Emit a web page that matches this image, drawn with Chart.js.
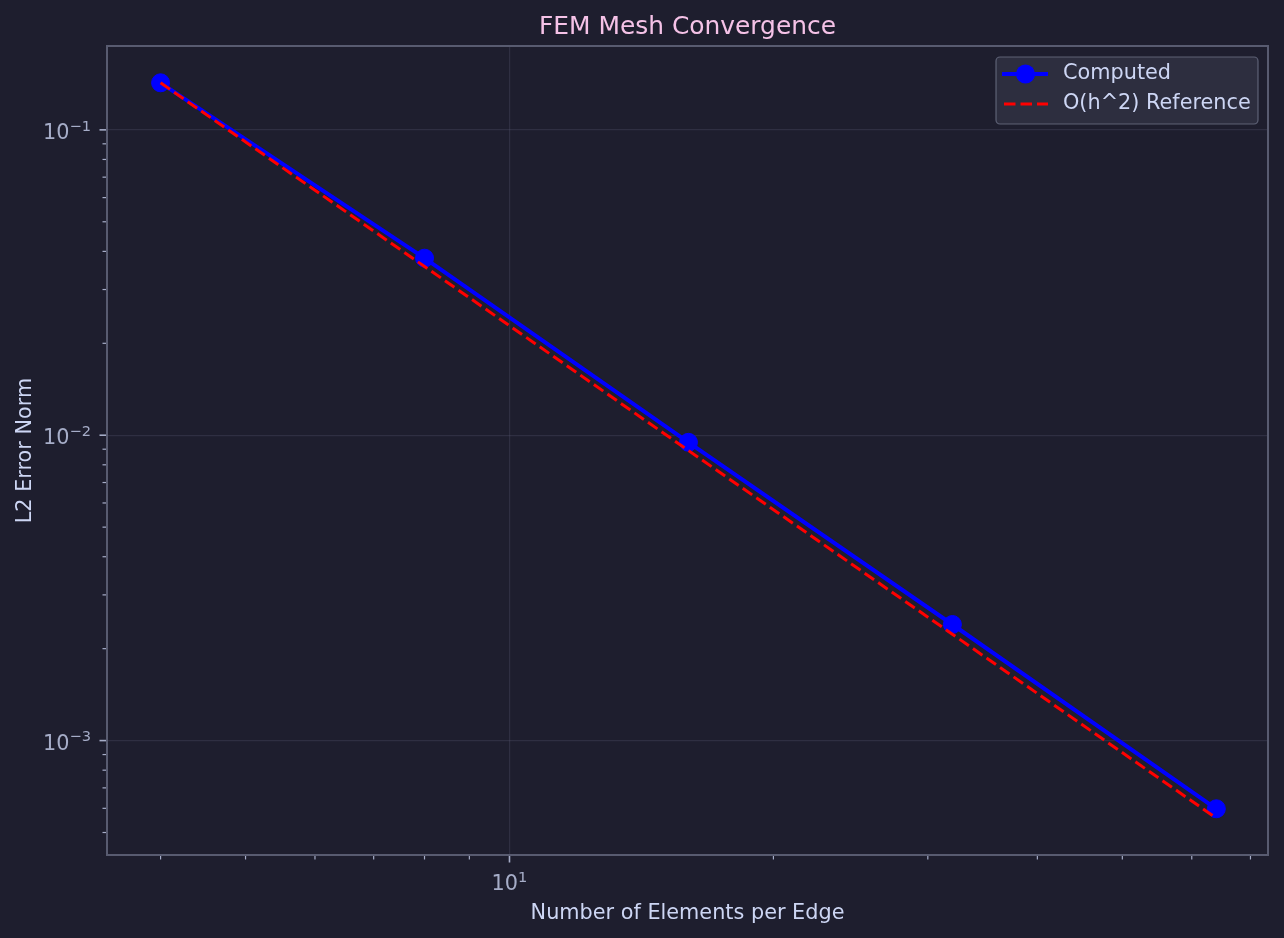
<!DOCTYPE html>
<html>
<head>
<meta charset="utf-8">
<script src="https://cdn.jsdelivr.net/npm/chart.js"></script>
<style>
  html, body { margin: 0; padding: 0; background: #1e1e2e; }
  #wrap { width: 1284px; height: 938px; position: relative; }
</style>
</head>
<body>
<div id="wrap"><canvas id="convChart"></canvas></div>
<script>
// data
const elements = [4, 8, 16, 32, 64];
const l2Error = [0.1426, 0.0380, 0.00948, 0.00240, 0.000598];
const refError = [0.1426, 0.0357, 0.00891, 0.00223, 0.000557];

const xMajor = [10];
const xMinor = [4, 5, 6, 7, 8, 9, 20, 30, 40, 50, 60, 70];
const yMajor = [1e-3, 1e-2, 1e-1];
const yMajorExp = ['\u22123', '\u22122', '\u22121'];
const yMinor = [5e-4, 6e-4, 7e-4, 8e-4, 9e-4,
  2e-3, 3e-3, 4e-3, 5e-3, 6e-3, 7e-3, 8e-3, 9e-3,
  2e-2, 3e-2, 4e-2, 5e-2, 6e-2, 7e-2, 8e-2, 9e-2];

const FONT = "'DejaVu Sans', sans-serif";
const C = {
  bg: '#1e1e2e',
  title: '#f5c2e7',
  label: '#cdd6f4',
  tick: '#a6adc8',
  spine: '#585b70',
  grid: 'rgba(88, 91, 112, 0.3)'
};

// puts "10" with a raised exponent, like mathtext
function drawPow(ctx, exp, x, y, align) {
  ctx.font = '20.8px ' + FONT;
  const wBase = ctx.measureText('10').width;
  ctx.font = '14.6px ' + FONT;
  const wExp = ctx.measureText(exp).width;
  const total = wBase + wExp;
  let x0 = align === 'center' ? x - total / 2 : x - total;
  ctx.textAlign = 'left';
  ctx.textBaseline = 'alphabetic';
  ctx.fillStyle = C.tick;
  ctx.font = '20.8px ' + FONT;
  ctx.fillText('10', x0, y);
  ctx.font = '14.6px ' + FONT;
  ctx.fillText(exp, x0 + wBase, y - 8.3);
}

const decorPlugin = {
  id: 'decor',
  beforeDraw(chart) {
    const ctx = chart.ctx;
    ctx.save();
    ctx.fillStyle = C.bg;
    ctx.fillRect(0, 0, chart.width, chart.height);
    ctx.restore();
  },
  afterDatasetsDraw(chart) {
    const ctx = chart.ctx;
    const a = chart.chartArea;
    const xs = chart.scales.x, ys = chart.scales.y;
    ctx.save();

    // spines
    ctx.strokeStyle = C.spine;
    ctx.lineWidth = 2;
    ctx.strokeRect(a.left, a.top, a.right - a.left, a.bottom - a.top);

    // tick marks
    ctx.strokeStyle = C.tick;
    const tick = (x1, y1, x2, y2, w) => {
      ctx.lineWidth = w;
      ctx.beginPath(); ctx.moveTo(x1, y1); ctx.lineTo(x2, y2); ctx.stroke();
    };
    xMinor.forEach(v => { const px = xs.getPixelForValue(v); tick(px, a.bottom + 1, px, a.bottom + 4.5, 1.2); });
    xMajor.forEach(v => { const px = xs.getPixelForValue(v); tick(px, a.bottom + 1, px, a.bottom + 7.5, 1.6); });
    yMinor.forEach(v => { const py = ys.getPixelForValue(v); tick(a.left - 1, py, a.left - 4.5, py, 1.2); });
    yMajor.forEach(v => { const py = ys.getPixelForValue(v); tick(a.left - 1, py, a.left - 7.5, py, 1.6); });

    // tick labels
    xMajor.forEach(v => drawPow(ctx, '1', xs.getPixelForValue(v), a.bottom + 35, 'center'));
    yMajor.forEach((v, i) => drawPow(ctx, yMajorExp[i], a.left - 16, ys.getPixelForValue(v) + 9, 'right'));

    // title and axis labels
    ctx.fillStyle = C.title;
    ctx.font = '24.9px ' + FONT;
    ctx.textAlign = 'center';
    ctx.textBaseline = 'alphabetic';
    ctx.fillText('FEM Mesh Convergence', (a.left + a.right) / 2, 33.5);

    ctx.fillStyle = C.label;
    ctx.font = '20.8px ' + FONT;
    ctx.fillText('Number of Elements per Edge', (a.left + a.right) / 2, 919);

    ctx.save();
    ctx.translate(30.5, (a.top + a.bottom) / 2);
    ctx.rotate(-Math.PI / 2);
    ctx.fillText('L2 Error Norm', 0, 0);
    ctx.restore();

    // legend
    const lx = 996, ly = 57, lw = 262, lh = 67;
    ctx.beginPath();
    ctx.roundRect(lx, ly, lw, lh, 4);
    ctx.fillStyle = 'rgba(49, 50, 68, 0.8)';
    ctx.fill();
    ctx.strokeStyle = 'rgba(108, 112, 134, 0.8)';
    ctx.lineWidth = 1.2;
    ctx.stroke();

    const r1 = 74, r2 = 104;
    ctx.strokeStyle = '#0000ff';
    ctx.lineWidth = 4;
    ctx.beginPath(); ctx.moveTo(1002, r1); ctx.lineTo(1048, r1); ctx.stroke();
    ctx.fillStyle = '#0000ff';
    ctx.beginPath(); ctx.arc(1025.5, r1, 9.5, 0, Math.PI * 2); ctx.fill();

    ctx.strokeStyle = '#ff0000';
    ctx.lineWidth = 3;
    ctx.setLineDash([11.5, 5]);
    ctx.beginPath(); ctx.moveTo(1004, r2); ctx.lineTo(1048, r2); ctx.stroke();
    ctx.setLineDash([]);

    ctx.fillStyle = C.label;
    ctx.font = '20.8px ' + FONT;
    ctx.textAlign = 'left';
    ctx.textBaseline = 'middle';
    ctx.fillText('Computed', 1063, r1);
    ctx.fillText('O(h^2) Reference', 1063, r2);

    ctx.restore();
  }
};

new Chart(document.getElementById('convChart'), {
  type: 'line',
  data: {
    datasets: [
      {
        label: 'Computed',
        data: elements.map((n, i) => ({ x: n, y: l2Error[i] })),
        borderColor: '#0000ff',
        backgroundColor: '#0000ff',
        borderWidth: 4,
        pointRadius: 9,
        pointBorderWidth: 1,
        pointBorderColor: '#0000ff',
        pointBackgroundColor: '#0000ff',
        tension: 0,
        order: 1
      },
      {
        label: 'O(h^2) Reference',
        data: elements.map((n, i) => ({ x: n, y: refError[i] })),
        borderColor: '#ff0000',
        borderWidth: 3,
        borderDash: [11.5, 5],
        pointRadius: 0,
        tension: 0,
        order: 0
      }
    ]
  },
  options: {
    responsive: true,
    maintainAspectRatio: false,
    animation: false,
    devicePixelRatio: 1,
    layout: { padding: { left: 0, top: 46, right: 16, bottom: 0 } },
    plugins: { legend: { display: false }, tooltip: { enabled: false }, title: { display: false } },
    scales: {
      x: {
        type: 'logarithmic',
        min: 3.475,
        max: 73.3,
        bounds: 'data',
        afterBuildTicks: s => { s.ticks = xMajor.map(v => ({ value: v })); },
        afterFit: s => { s.height = 83; },
        ticks: { display: false },
        grid: { color: C.grid, lineWidth: 1.2, drawTicks: false },
        border: { display: false }
      },
      y: {
        type: 'logarithmic',
        min: 0.000422,
        max: 0.1882,
        bounds: 'data',
        afterBuildTicks: s => { s.ticks = yMajor.map(v => ({ value: v })); },
        afterFit: s => { s.width = 107; },
        ticks: { display: false },
        grid: { color: C.grid, lineWidth: 1.2, drawTicks: false },
        border: { display: false }
      }
    }
  },
  plugins: [decorPlugin]
});
</script>
</body>
</html>
